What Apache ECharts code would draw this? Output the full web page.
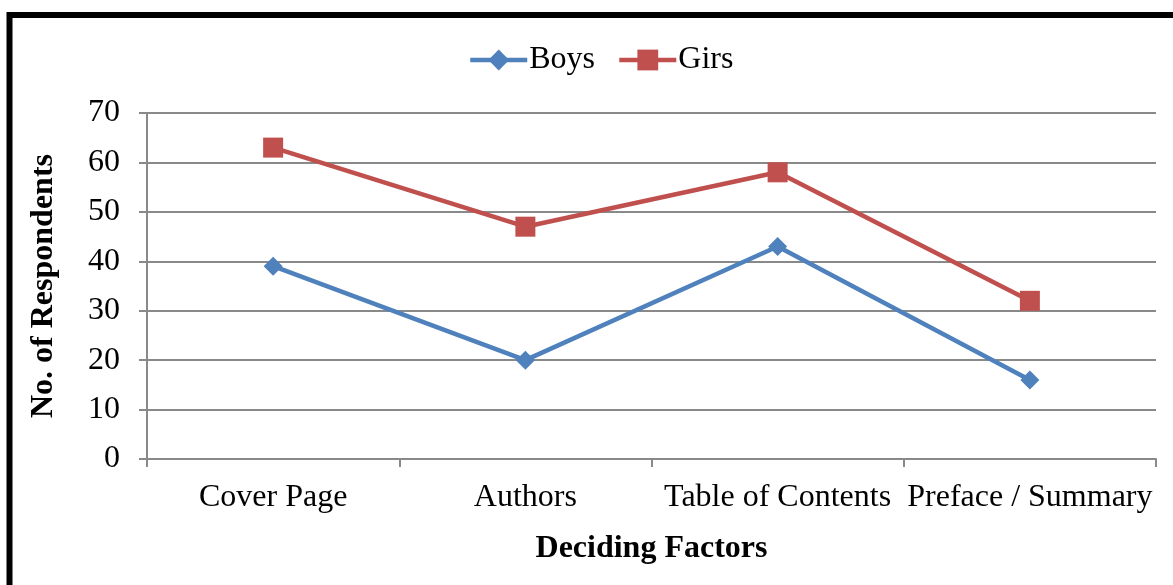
<!DOCTYPE html>
<html><head><meta charset="utf-8">
<script src="https://cdn.jsdelivr.net/npm/echarts@6/dist/echarts.min.js"></script>
<style>html,body{margin:0;padding:0;background:#fff}#c{width:1173px;height:585px}</style>
</head><body><div id="c"></div>
<script>
const categories = ['Cover Page', 'Authors', 'Table of Contents', 'Preface / Summary'];
const boys = [39, 20, 43, 16];
const girls = [63, 47, 58, 32];
const yTicks = [0, 10, 20, 30, 40, 50, 60, 70];

const font = 'Liberation Serif, Times New Roman, serif';
const chart = echarts.init(document.getElementById('c'));
chart.setOption({
  animation: false,
  backgroundColor: '#fff',
  graphic: [{
    type: 'rect', shape: {x: 9.5, y: 15, width: 1200, height: 700},
    style: {fill: 'none', stroke: '#000', lineWidth: 6}, z: 100
  }],
  legend: {
    top: 39, left: 463, itemGap: 22, itemWidth: 57, itemHeight: 26,
    lineStyle: {width: 4.5},
    textStyle: {fontFamily: font, fontSize: 32, color: '#000', padding: [0, 0, 0, -3]},
    data: ['Boys', 'Girs']
  },
  grid: {left: 147, right: 17, top: 113, bottom: 126},
  xAxis: {
    type: 'category', data: categories, boundaryGap: true,
    name: 'Deciding Factors', nameLocation: 'middle', nameGap: 74,
    nameTextStyle: {fontFamily: font, fontSize: 32, fontWeight: 'bold', color: '#000'},
    axisLine: {lineStyle: {color: '#898989', width: 2}},
    axisTick: {show: true, length: 8, interval: 0, alignWithLabel: false, lineStyle: {color: '#898989', width: 2}},
    axisLabel: {fontFamily: font, fontSize: 32, color: '#000', margin: 23, interval: 0}
  },
  yAxis: {
    type: 'value', min: yTicks[0], max: yTicks[yTicks.length - 1], interval: 10,
    name: 'No. of Respondents', nameLocation: 'middle', nameGap: 87, nameRotate: 90,
    nameTextStyle: {fontFamily: font, fontSize: 32, fontWeight: 'bold', color: '#000'},
    axisLine: {show: true, lineStyle: {color: '#898989', width: 2}},
    axisTick: {show: true, length: 8, lineStyle: {color: '#898989', width: 2}},
    axisLabel: {fontFamily: font, fontSize: 32, color: '#000', margin: 27},
    splitLine: {lineStyle: {color: '#898989', width: 2}}
  },
  series: [
    {name: 'Boys', type: 'line', data: boys, symbol: 'diamond', symbolSize: 19,
     lineStyle: {color: '#4F81BD', width: 4.5}, itemStyle: {color: '#4F81BD'}},
    {name: 'Girs', type: 'line', data: girls, symbol: 'rect', symbolSize: 20,
     lineStyle: {color: '#C0504D', width: 4.5}, itemStyle: {color: '#C0504D'}}
  ]
});
</script></body></html>
